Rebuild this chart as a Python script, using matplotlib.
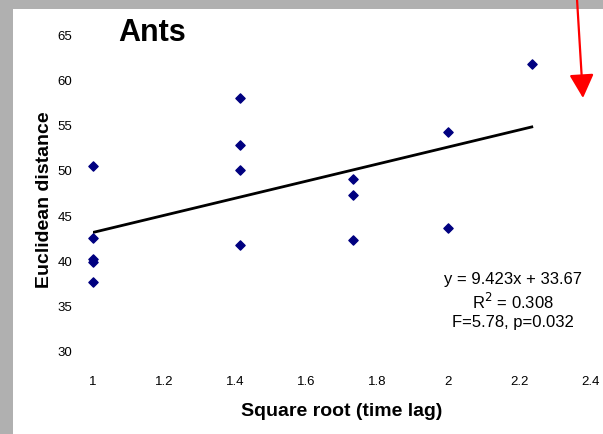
import matplotlib
matplotlib.use("Agg")
import matplotlib.pyplot as plt
from matplotlib.patches import Rectangle, FancyArrowPatch

plt.rcParams["font.family"] = ["Liberation Sans", "DejaVu Sans"]

# data
sqrt_lag = [1, 1, 1, 1, 1,
            1.414, 1.414, 1.414, 1.414,
            1.732, 1.732, 1.732,
            2, 2,
            2.236]
distance = [50.4, 42.5, 40.2, 39.8, 37.6,
            57.9, 52.7, 50.0, 41.7,
            49.0, 47.2, 42.3,
            54.2, 43.6,
            61.7]
fit_x = [1, 2.236]
fit_y = [43.09, 54.74]
x_ticks = [1, 1.2, 1.4, 1.6, 1.8, 2, 2.2, 2.4]
x_labels = ["1", "1.2", "1.4", "1.6", "1.8", "2", "2.2", "2.4"]
y_ticks = [30, 35, 40, 45, 50, 55, 60, 65]

W, H = 603, 435
fig = plt.figure(figsize=(W / 100, H / 100), dpi=100, facecolor="white")
# grey frame on the left and top
fig.patches.append(Rectangle((0, 0), 13 / W, 1, transform=fig.transFigure,
                             facecolor="#b0b0b0", edgecolor="none", zorder=-10))
fig.patches.append(Rectangle((0, 1 - 10 / H), 1, 10 / H, transform=fig.transFigure,
                             facecolor="#b0b0b0", edgecolor="none", zorder=-10))

ax = fig.add_axes([93 / W, 1 - 352 / H, (590 - 93) / W, (352 - 35) / H])
ax.set_facecolor("none")
ax.scatter(sqrt_lag, distance, marker="D", s=22, color="#000080", zorder=3, clip_on=False)
ax.plot(fit_x, fit_y, color="black", lw=2, zorder=2)

ax.set_xlim(1, 2.4)
ax.set_ylim(30, 65)
ax.set_xticks(x_ticks)
ax.set_xticklabels(x_labels)
ax.set_yticks(y_ticks)
for s in ax.spines.values():
    s.set_visible(False)
ax.tick_params(axis="x", length=0, pad=17, labelsize=9.5)
ax.tick_params(axis="y", length=0, pad=15, labelsize=9.5)

ax.set_xlabel("Square root (time lag)", fontsize=14, fontweight="bold", labelpad=11)
fig.text(45 / W, 1 - 200 / H, "Euclidean distance", rotation=90, fontsize=14,
         fontweight="bold", ha="center", va="center")
fig.text(118 / W, 1 - 33 / H, "Ants", fontsize=22, fontweight="bold", ha="left", va="center")

ax.text(513 / W, 1 - 301 / H, "y = 9.423x + 33.67\nR$^2$ = 0.308\nF=5.78, p=0.032",
        transform=fig.transFigure, ha="center", va="center", fontsize=12,
        linespacing=1.3)

# red arrow at the top right, outside the chart
fig.add_artist(FancyArrowPatch(
    (577 / W, 1.0), (583 / W, 1 - 99 / H), transform=fig.transFigure,
    arrowstyle="-|>,head_length=5.8,head_width=3", color="red", lw=1.6,
    mutation_scale=2.5, shrinkA=0, shrinkB=0))

fig.savefig("out.png", dpi=100, facecolor=fig.get_facecolor())
